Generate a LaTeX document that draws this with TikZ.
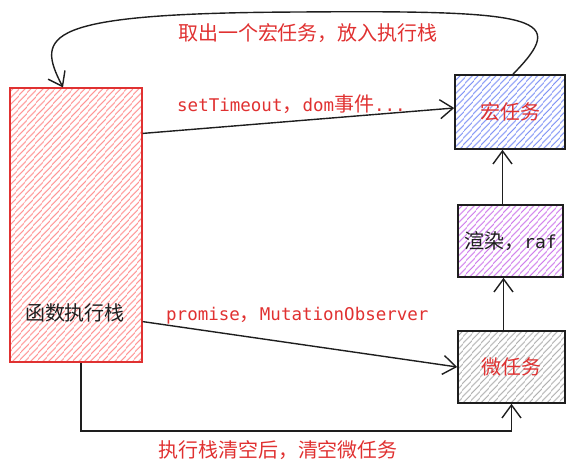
\documentclass[tikz,border=0pt]{standalone}
\usepackage{fontspec}
\setmainfont{Noto Sans CJK SC}
\newfontfamily\handfont{DejaVu Sans Mono}
\usetikzlibrary{arrows.meta,patterns.meta}
\definecolor{ink}{RGB}{30,30,30}
\definecolor{txtred}{RGB}{224,49,49}
\definecolor{hred}{RGB}{255,140,140}
\definecolor{hblue}{RGB}{125,145,245}
\definecolor{hpurple}{RGB}{205,120,235}
\definecolor{hgray}{RGB}{175,175,175}
\tikzset{
  hatch/.style={pattern={Lines[angle=48,distance=4pt,line width=1.15pt]},pattern color=#1},
  taskbox/.style={draw=ink,line width=1.6pt,inner sep=0pt,font=\fontsize{20}{24}\selectfont},
  arr/.style={draw=ink,line width=1.4pt,-{Straight Barb[length=13pt,width=19pt,line width=1.4pt]}},
  redlbl/.style={text=txtred,font=\fontsize{20}{24}\selectfont,inner sep=0pt},
  handlbl/.style={text=txtred,font=\fontsize{17.5}{22}\handfont,inner sep=0pt,anchor=west},
}
\newcommand{\cjk}[1]{{\fontspec{Noto Sans CJK SC}\fontsize{20}{24}\selectfont#1}}
\begin{document}
\begin{tikzpicture}[x=1pt,y=-1pt]
\useasboundingbox (0,0) rectangle (574,474);
% boxes
\node[taskbox,draw=txtred,hatch=hred,minimum width=132pt,minimum height=274pt] (stack) at (76,225) {};
\node[font=\fontsize{20}{24}\selectfont,text=ink] (stacklbl) at (75,313) {函数执行栈};
\node[taskbox,hatch=hblue,minimum width=110pt,minimum height=74pt,text=txtred] (macro) at (510,112) {宏任务};
\node[taskbox,hatch=hpurple,minimum width=105pt,minimum height=72pt,text=ink] (render) at (510.5,241) {渲染，{\handfont\fontsize{18}{22}\selectfont raf}};
\node[taskbox,hatch=hgray,minimum width=107pt,minimum height=72pt,text=txtred] (micro) at (511.5,367) {微任务};
% connectors
\draw[arr] ([yshift=-46pt]stack.north east) -- ([yshift=4pt]macro.west);
\draw[arr] ([yshift=41pt]stack.south east) -- (micro.west);
\draw[arr] ([xshift=5pt]stack.south) |- ([yshift=-27pt]micro.south) -- (micro.south);
\draw[arr] ([xshift=-8pt]micro.north) -- ([xshift=-8pt]micro.north |- render.south);
\draw[arr] ([xshift=-8pt]render.north) -- ([xshift=-8pt]render.north |- macro.south);
\draw[arr] ([xshift=3pt]macro.north) .. controls (568,18) and (545,10) .. (300,12)
  .. controls (40,13) and (36,35) .. ([xshift=-13pt]stack.north);
% labels
\node[redlbl] (l1) at (308,33) {取出一个宏任务，放入执行栈};
\node[handlbl] (l2) at (177,104) {setTimeout\cjk{，}dom\cjk{事件}...};
\node[handlbl] (l3) at (166,316) {promise\cjk{，}MutationObserver};
\node[redlbl] (l4) at (278,450) {执行栈清空后，清空微任务};
\end{tikzpicture}
\end{document}
